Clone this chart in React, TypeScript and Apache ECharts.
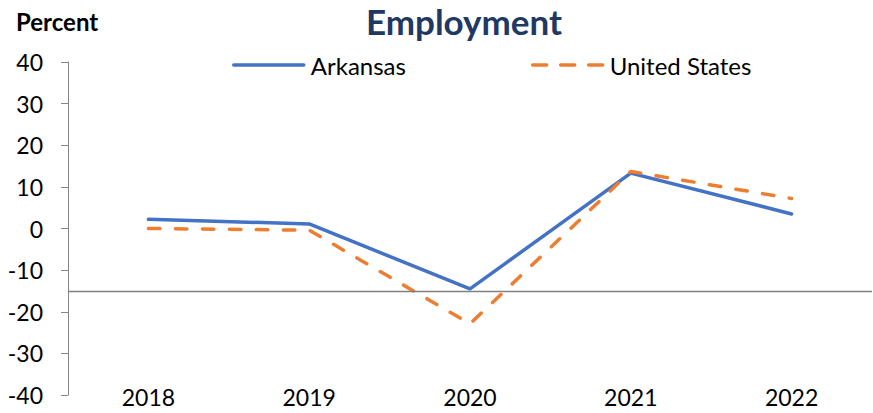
import React, { useEffect, useRef } from "react";
import * as echarts from "echarts";

const categories = ["2018", "2019", "2020", "2021", "2022"];
const arkansas = [2.2, 1.1, -14.5, 13.3, 3.5];
const unitedStates = [0, -0.4, -22.9, 13.7, 7.2];
const baselineValue = -15;

export default function App() {
  const ref = useRef<HTMLDivElement>(null);
  useEffect(() => {
    if (!ref.current) return;
    const chart = echarts.init(ref.current, undefined, { renderer: "svg" });
    const font = "Lato, 'Open Sans', sans-serif";
    chart.setOption({
      animation: false,
      textStyle: { fontFamily: font },
      title: [
        {
          text: "Employment",
          left: 459,
          top: -2,
          textAlign: "center",
          textStyle: { fontFamily: font, fontSize: 35, fontWeight: "bold", color: "#1F3864" },
        },
        {
          text: "Percent",
          left: 11,
          top: 4,
          textStyle: { fontFamily: font, fontSize: 24, fontWeight: "bold", color: "#000" },
        },
      ],
      legend: {
        left: 227,
        top: 48,
        itemWidth: 70,
        itemHeight: 24,
        itemGap: 125,
        itemStyle: { color: "transparent", borderColor: "transparent", borderWidth: 0 },
        textStyle: { fontFamily: font, fontSize: 24, color: "#000", padding: [0, 0, 0, 2] },
        data: [
          { name: "Arkansas", lineStyle: { width: 3.5, color: "#4472C4", cap: "round" } },
          {
            name: "United States",
            lineStyle: { width: 3.5, color: "#ED7D31", type: [14, 14], cap: "round" },
          },
        ],
      },
      grid: { left: 68, right: 1, top: 62, bottom: 18, containLabel: false },
      xAxis: {
        type: "category",
        data: categories,
        boundaryGap: true,
        axisLine: { show: false, onZero: false },
        axisTick: { show: false },
        axisLabel: { fontFamily: font, fontSize: 23, color: "#000", margin: -10 },
      },
      yAxis: {
        type: "value",
        min: -40,
        max: 40,
        interval: 10,
        splitLine: { show: false },
        axisLine: { show: true, lineStyle: { color: "#868686", width: 1 } },
        axisTick: { show: true, length: 7, lineStyle: { color: "#868686" } },
        axisLabel: { fontFamily: font, fontSize: 23, color: "#000", margin: 25 },
      },
      series: [
        {
          name: "Arkansas",
          type: "line",
          data: arkansas,
          symbol: "none",
          lineStyle: { color: "#4472C4", width: 3.5, cap: "round", join: "round" },
          itemStyle: { color: "#4472C4" },
          markLine: {
            silent: true,
            symbol: "none",
            label: { show: false },
            lineStyle: { color: "#808080", width: 1.3, type: "solid" },
            data: [{ yAxis: baselineValue }],
          },
        },
        {
          name: "United States",
          type: "line",
          data: unitedStates,
          symbol: "none",
          lineStyle: { color: "#ED7D31", width: 3.5, type: [11.5, 15.5], cap: "round", join: "round" },
          itemStyle: { color: "#ED7D31" },
        },
      ],
    });
    return () => chart.dispose();
  }, []);
  return (
    <div
      ref={ref}
      style={{ position: "absolute", left: 0, top: 0, width: 873, height: 413 }}
    />
  );
}
